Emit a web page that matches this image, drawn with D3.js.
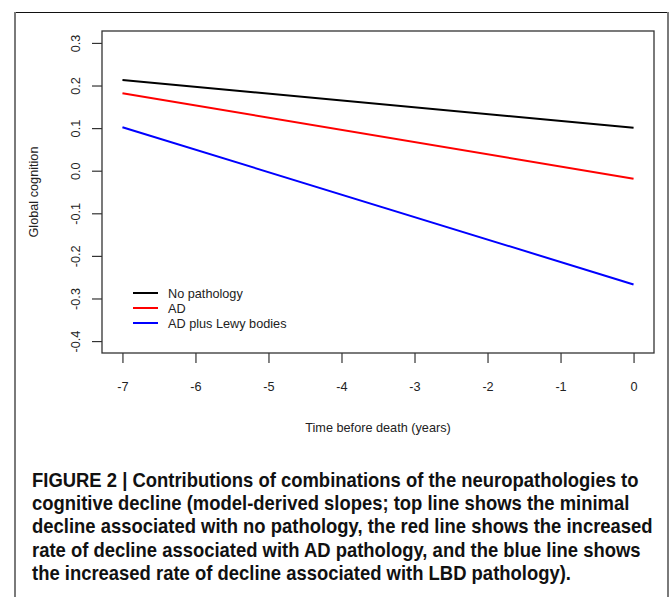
<!DOCTYPE html>
<html>
<head>
<meta charset="utf-8">
<script src="https://cdn.jsdelivr.net/npm/d3@7"></script>
<style>
  body { margin: 0; background: #fff; }
  text { font-family: "Liberation Sans", Arial, sans-serif; }
</style>
</head>
<body>
<script>
var w = 670, h = 597;

// data (model-derived slopes)
var years = [-7, 0];
var noPathology = [0.213, 0.101];
var adOnly = [0.182, -0.019];
var adLewy = [0.102, -0.267];
var seriesNames = ["No pathology", "AD", "AD plus Lewy bodies"];
var seriesColours = ["black", "red", "blue"];
var xTicks = [-7, -6, -5, -4, -3, -2, -1, 0];
var yTicks = [-0.4, -0.3, -0.2, -0.1, 0.0, 0.1, 0.2, 0.3];
var captionLines = [
  "FIGURE 2 | Contributions of combinations of the neuropathologies to",
  "cognitive decline (model-derived slopes; top line shows the minimal",
  "decline associated with no pathology, the red line shows the increased",
  "rate of decline associated with AD pathology, and the blue line shows",
  "the increased rate of decline associated with LBD pathology)."
];

var series = [noPathology, adOnly, adLewy];
var fs = "12.7px";

var svg = d3.select("body").append("svg")
            .attr("width", w)
            .attr("height", h);

// outer figure frame
svg.append("line").attr("x1", 15).attr("x2", 668).attr("y1", 12.5).attr("y2", 12.5)
   .style("stroke", "#111").style("stroke-width", 1.2);
svg.append("line").attr("x1", 15).attr("x2", 15).attr("y1", 12).attr("y2", h)
   .style("stroke", "#7a7a7a").style("stroke-width", 2);
svg.append("line").attr("x1", 668).attr("x2", 668).attr("y1", 12).attr("y2", h)
   .style("stroke", "#7a7a7a").style("stroke-width", 2);

// plot region, R style 4% extension of xlim / ylim
var pLeft = 102, pRight = 654, pTop = 31, pBottom = 353;
var xr = 7 * 0.04, yr = 0.7 * 0.04;

var x = d3.scaleLinear().domain([-7 - xr, 0 + xr]).range([pLeft, pRight]);
var y = d3.scaleLinear().domain([-0.4 - yr, 0.3 + yr]).range([pBottom, pTop]);

//x axis
var xAxis = svg.append("g")
    .attr("transform", "translate(0," + pBottom + ")")
    .call(d3.axisBottom(x).tickValues(xTicks).tickSize(10).tickPadding(19)
            .tickFormat(function(d){ return d3.format("d")(d).replace("−", "-"); }));
xAxis.select(".domain").remove();
xAxis.selectAll("line").style("stroke", "#333").style("stroke-width", 1.2);
xAxis.selectAll("text").style("font-size", fs).style("fill", "#222")
     .style("font-family", "Liberation Sans, Arial, sans-serif");

//y axis with rotated labels
var yAxis = svg.append("g")
    .attr("transform", "translate(" + pLeft + ",0)")
    .call(d3.axisLeft(y).tickValues(yTicks).tickSize(10)
            .tickFormat(function(d){ return d3.format(".1f")(d).replace("−", "-"); }));
yAxis.select(".domain").remove();
yAxis.selectAll("line").style("stroke", "#333").style("stroke-width", 1.2);
yAxis.selectAll("text")
     .attr("x", null).attr("dy", null)
     .attr("transform", "translate(-22,0) rotate(-90)")
     .attr("text-anchor", "middle")
     .style("font-size", fs).style("fill", "#222")
     .style("font-family", "Liberation Sans, Arial, sans-serif");

// box
svg.append("rect")
   .attr("x", pLeft).attr("y", pTop)
   .attr("width", pRight - pLeft).attr("height", pBottom - pTop)
   .style("fill", "none").style("stroke", "#333").style("stroke-width", 1.3);

// lines
var line = d3.line()
    .x(function(d, i){ return x(years[i]); })
    .y(function(d){ return y(d); });

svg.selectAll(".slope")
   .data(series)
   .enter()
   .append("path")
   .attr("class", "slope")
   .attr("d", line)
   .style("fill", "none")
   .style("stroke", function(d, i){ return seriesColours[i]; })
   .style("stroke-width", 2);

// legend
var legend = svg.append("g").attr("transform", "translate(133,293)");
seriesNames.forEach(function(name, i){
    legend.append("line")
          .attr("x1", 0).attr("x2", 25)
          .attr("y1", i * 15).attr("y2", i * 15)
          .style("stroke", seriesColours[i]).style("stroke-width", 2);
    legend.append("text")
          .attr("x", 35).attr("y", i * 15 + 4.5)
          .style("font-size", fs).style("fill", "#222")
          .text(name);
});

// axis titles
svg.append("text")
   .attr("x", (pLeft + pRight) / 2).attr("y", 432)
   .attr("text-anchor", "middle")
   .style("font-size", fs).style("fill", "#222")
   .text("Time before death (years)");

svg.append("text")
   .attr("transform", "translate(38," + (pTop + pBottom) / 2 + ") rotate(-90)")
   .attr("text-anchor", "middle")
   .style("font-size", fs).style("fill", "#222")
   .text("Global cognition");

// caption: condensed bold look, squeeze so the first line spans like the original
var caption = svg.append("g");
var capText = caption.selectAll("text")
   .data(captionLines)
   .enter()
   .append("text")
   .attr("x", 0).attr("y", function(d, i){ return i * 23.2; })
   .style("font-family", "'Liberation Sans', Arial, sans-serif")
   .style("font-weight", "bold")
   .style("font-size", "19.5px")
   .style("fill", "#111")
   .text(function(d){ return d; });
var firstLen = capText.node().getComputedTextLength();
var sx = 607 / firstLen;
caption.attr("transform", "translate(32,487) scale(" + sx + ",1)");
</script>
</body>
</html>
